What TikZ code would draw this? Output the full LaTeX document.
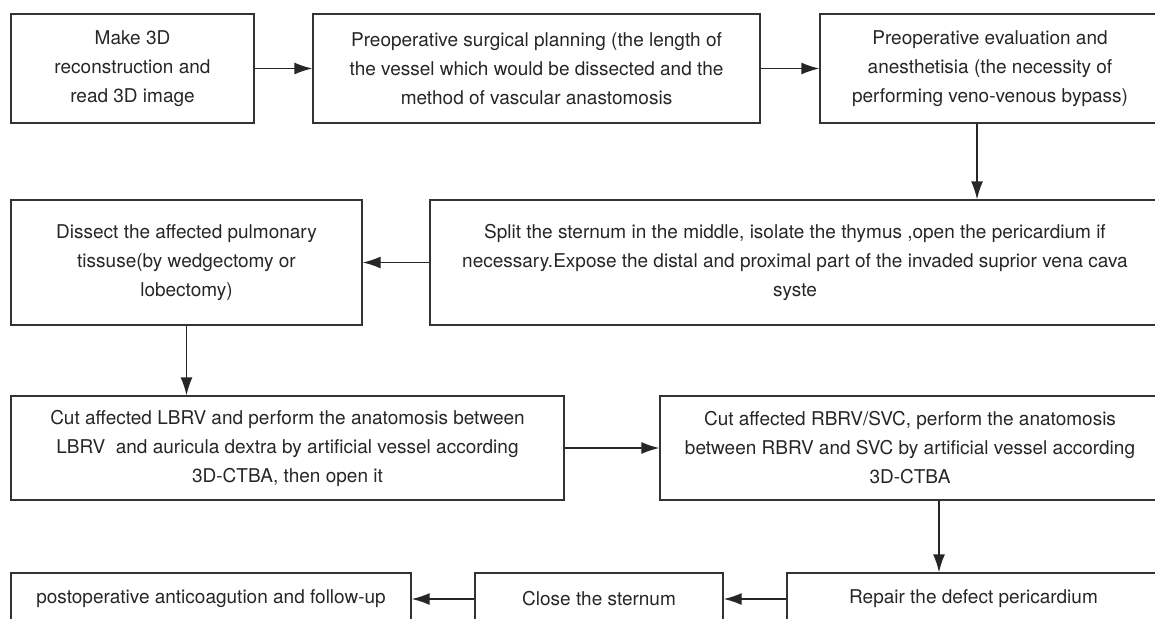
\documentclass[tikz,border=0pt]{standalone}
\usepackage{fontspec}
\setmainfont{TeX Gyre Heros}
\usetikzlibrary{arrows.meta,positioning}

\tikzset{
	stepbox/.style={draw=black!80,line width=1.4pt,align=center,inner sep=0pt,
		text=black!85,font=\fontsize{19}{29}\selectfont},
	arr/.style={-{Latex[length=18pt,width=12pt]},draw=black!85,line width=1.4pt}
}

\begin{document}
\begin{tikzpicture}[x=1pt,y=-1pt]
		\useasboundingbox (0,0) rectangle (1155,618);
		\clip (0,0) rectangle (1155,618);
		% first row
		\node[stepbox,minimum width=243pt,minimum height=109pt] (make3d) at (132.5,68.5) {Make 3D\\reconstruction and\\read 3D image};
		\node[stepbox,minimum width=447pt,minimum height=109pt] (plan) at (536.5,68.5) {Preoperative surgical planning (the length of\\the vessel which would be dissected and the\\method of vascular anastomosis};
		\node[stepbox,minimum width=340pt,minimum height=109pt] (eval) at (990,68.5) {Preoperative evaluation and\\anesthetisia (the necessity of\\performing veno-venous bypass)};
		% second row
		\node[stepbox,minimum width=730pt,minimum height=125pt] (split) at (795,262.5) {Split the sternum in the middle, isolate the thymus ,open the pericardium if\\necessary.Expose the distal and proximal part of the invaded suprior vena cava\\syste};
		\node[stepbox,minimum width=351pt,minimum height=125pt] (dissect) at (186.5,262.5) {Dissect the affected pulmonary\\tissuse(by wedgectomy or\\lobectomy)};
		% third row
		\node[stepbox,minimum width=553pt,minimum height=104pt] (lbrv) at (287.5,448) {Cut affected LBRV and perform the anatomosis between\\LBRV\ \ and auricula dextra by artificial vessel according\\3D-CTBA, then open it};
		\node[stepbox,minimum width=500pt,minimum height=104pt] (rbrv) at (910,448) {Cut affected RBRV/SVC, perform the anatomosis\\between RBRV and SVC by artificial vessel according\\3D-CTBA};
		% last row
		\node[stepbox,minimum width=373pt,minimum height=52pt] (repair) at (973.5,599) {Repair the defect pericardium};
		\node[stepbox,minimum width=248pt,minimum height=52pt] (close) at (599,599) {Close the sternum};
		\node[stepbox,minimum width=400pt,minimum height=52pt] (followup) at (211,599) {postoperative anticoagution and follow-up};
		% arrows
		\draw[arr] (make3d) -- (plan);
		\draw[arr] (plan) -- (eval);
		\draw[arr] ([xshift=-13pt]eval.south) -- ([xshift=-13pt]eval.south |- split.north);
		\draw[arr] (split) -- (dissect);
		\draw[arr] (dissect.south) -- (dissect.south |- lbrv.north);
		\draw[arr] (lbrv) -- (rbrv);
		\draw[arr] ([xshift=29pt]rbrv.south) -- ([xshift=29pt]rbrv.south |- repair.north);
		\draw[arr] (repair) -- (close);
		\draw[arr] (close) -- (followup);
	\end{tikzpicture}
\end{document}
